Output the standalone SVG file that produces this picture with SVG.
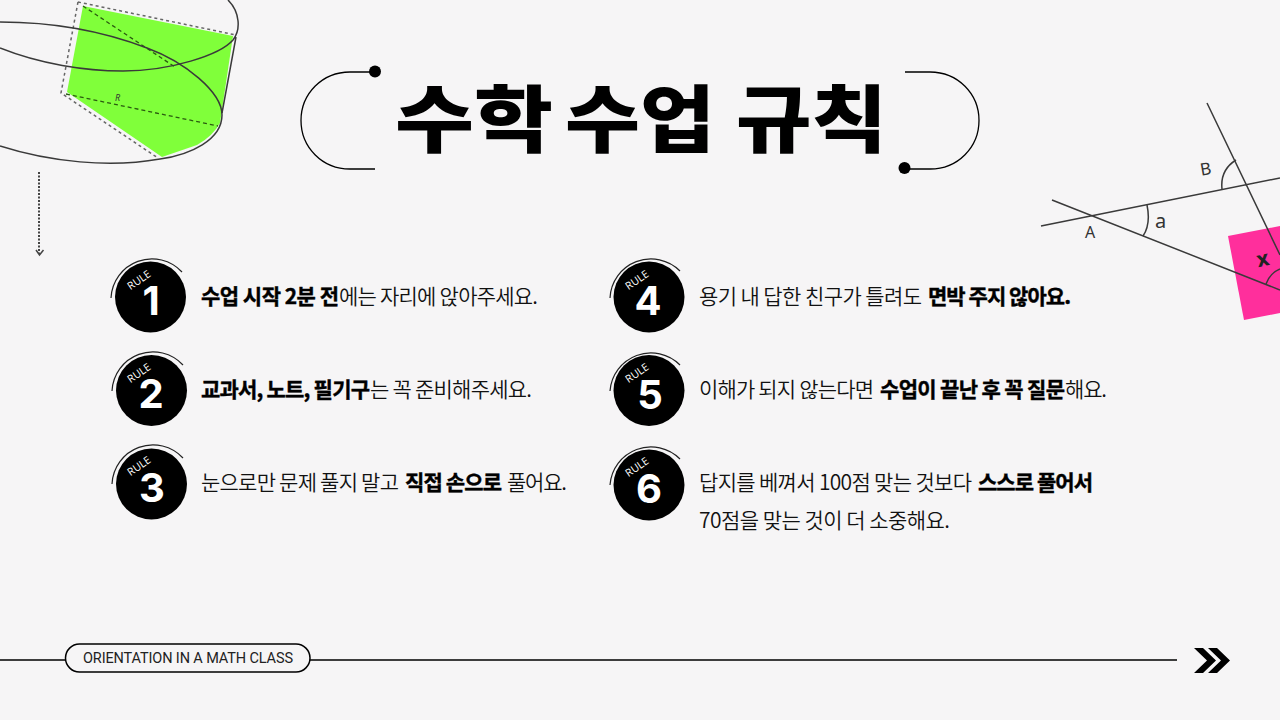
<svg xmlns="http://www.w3.org/2000/svg" width="1280" height="720" viewBox="0 0 1280 720">
<style>
.thin{fill:none;stroke:#000;stroke-width:1.3}
.geo{fill:none;stroke:#3a3a3a;stroke-width:1.5}
.dash{fill:none;stroke:#666;stroke-width:1.5;stroke-dasharray:3 3}
.dash2{fill:none;stroke:#2a5a10;stroke-width:1.3;stroke-dasharray:4 3}
.t{font-family:"Noto Sans CJK KR","Noto Sans",sans-serif;font-size:21px;fill:#111;font-weight:350}
.b{fill:#000;font-weight:700;stroke:#000;stroke-width:.4}
.title{font-family:"Noto Sans CJK KR",sans-serif;font-size:73px;font-weight:900;fill:#000}
.badge{fill:#000}
.ring{fill:none;stroke:#222;stroke-width:1.2}
.rule{font-family:"Open Sans","Noto Sans",sans-serif;font-size:10.500px;font-weight:500;fill:#fff;text-anchor:middle}
.num{font-family:"Inter","Noto Sans",sans-serif;font-size:40px;font-weight:700;fill:#fff;text-anchor:middle}
.lbl{font-family:"Noto Sans",sans-serif;fill:#333;font-size:15px}
</style>
<rect width="1280" height="720" fill="#f6f5f6"/>
<g id="deco-cylinder">
<path d="M83 6L233 36L220 123Q213 136 197 145L162 157L67 92Z" fill="#80ff3a"/>
<path class="dash" d="M78 2L236 35M78 2L61 93L158 158"/>
<path class="dash2" d="M83 6L175 67M66 94L218 126"/>
<path class="geo" d="M0 22C50 22 100 30 147 48C185 62 222 92 222 115C222 140 190 155 160 159C110 168 50 162 0 146"/>
<path class="geo" d="M0 48C40 64 85 71 123 71C170 71 220 55 233 40C241 30 240 12 228 0M236 37L222 113"/>
<text class="lbl" x="115" y="101" style="font-size:9px;font-style:italic">R</text>
<path d="M39 172V254" fill="none" stroke="#444" stroke-width="2" stroke-dasharray="2 1.500"/>
<path d="M36 250L39.500 255L43.500 250" fill="none" stroke="#444" stroke-width="1.500"/>
</g>
<g id="deco-angles">
<polygon points="1228,236 1280,226 1280,313 1244,320" fill="#ff2f9c"/>
<path class="geo" d="M1041 226L1280 178M1052 200L1280 290M1207 103L1280 255"/>
<path class="geo" d="M1147 205Q1151 224 1143 236M1236 160Q1220 170 1222 189M1266 284Q1270 273 1280 269"/>
<text class="lbl" x="1200" y="175" style="font-size:17px" transform="rotate(-10 1205 168)">B</text>
<text class="lbl" x="1155" y="228" style="font-size:20px">a</text>
<text class="lbl" x="1085" y="238" style="font-size:16px">A</text>
<text class="lbl" x="1257" y="266" transform="rotate(-12 1263 261)" style="font-size:21px;font-weight:700;fill:#222">x</text>
</g>
<g id="title">
<path class="thin" d="M375 169H350C322 169 301 147 301 120.500C301 94 322 72 350 72H372"/>
<circle cx="375" cy="71.500" r="6"/>
<path class="thin" d="M905 72H930C958 72 979 94 979 120.500C979 147 958 169 930 169H905"/>
<circle cx="904.500" cy="168" r="6"/>
<text class="title" y="146"><tspan x="395" textLength="158" lengthAdjust="spacingAndGlyphs">수학</tspan><tspan x="565" textLength="150" lengthAdjust="spacingAndGlyphs">수업</tspan><tspan x="736" textLength="151" lengthAdjust="spacingAndGlyphs">규칙</tspan></text>
</g>
<g id="rule1"><circle class="badge" cx="150.500" cy="297" r="35.500"/><path class="ring" d="M111 298A41 41 0 0 1 182 272"/><text class="rule" transform="translate(141 283) rotate(-35)">RULE</text><text class="num" x="151" y="315">1</text>
<text class="t" y="304"><tspan class="b" x="201" textLength="138">수업 시작 2분 전</tspan><tspan x="339" textLength="199">에는 자리에 앉아주세요.</tspan></text></g>
<g id="rule2"><circle class="badge" cx="151.500" cy="390.500" r="35.500"/><path class="ring" d="M112 391A41 41 0 0 1 183 365"/><text class="rule" transform="translate(141 376) rotate(-35)">RULE</text><text class="num" x="151" y="408">2</text>
<text class="t" y="397"><tspan class="b" x="201" textLength="169">교과서, 노트, 필기구</tspan><tspan x="370" textLength="162">는 꼭 준비해주세요.</tspan></text></g>
<g id="rule3"><circle class="badge" cx="151.500" cy="484" r="35.500"/><path class="ring" d="M112 484A41 41 0 0 1 183 458"/><text class="rule" transform="translate(141 469) rotate(-35)">RULE</text><text class="num" x="152" y="502">3</text>
<text class="t" y="490"><tspan x="201" textLength="198">눈으로만 문제 풀지 말고</tspan><tspan class="b" x="405" textLength="97">직접 손으로</tspan><tspan x="507" textLength="60">풀어요.</tspan></text></g>
<g id="rule4"><circle class="badge" cx="649" cy="297" r="35.500"/><path class="ring" d="M610 298A41 41 0 0 1 680 271"/><text class="rule" transform="translate(639 283) rotate(-35)">RULE</text><text class="num" x="648" y="315">4</text>
<text class="t" y="304"><tspan x="699" textLength="223">용기 내 답한 친구가 틀려도</tspan><tspan class="b" x="928" textLength="143">면박 주지 않아요.</tspan></text></g>
<g id="rule5"><circle class="badge" cx="649" cy="390.500" r="35.500"/><path class="ring" d="M610 391A41 41 0 0 1 680 365"/><text class="rule" transform="translate(639 376) rotate(-35)">RULE</text><text class="num" x="650" y="409">5</text>
<text class="t" y="397"><tspan x="699" textLength="175">이해가 되지 않는다면</tspan><tspan class="b" x="880" textLength="185">수업이 끝난 후 꼭 질문</tspan><tspan x="1065" textLength="42">해요.</tspan></text></g>
<g id="rule6"><circle class="badge" cx="649" cy="485" r="35.500"/><path class="ring" d="M610 485A41 41 0 0 1 680 459"/><text class="rule" transform="translate(639 470) rotate(-35)">RULE</text><text class="num" x="649" y="503">6</text>
<text class="t" y="490"><tspan x="699" textLength="273">답지를 베껴서 100점 맞는 것보다</tspan><tspan class="b" x="978" textLength="115">스스로 풀어서</tspan></text>
<text class="t" y="528" x="699" textLength="251">70점을 맞는 것이 더 소중해요.</text></g>
<g id="connectors"><path d="M0 660H65M310 660H1177" fill="none" stroke="#000" stroke-width="1.500"/></g>
<g id="footer"><rect x="65.500" y="644" width="244.500" height="28" rx="14" fill="#f6f5f6" stroke="#000" stroke-width="1.500"/>
<text x="83" y="663" textLength="210" style="font-family:'Roboto',sans-serif;font-size:14.500px;fill:#222">ORIENTATION IN A MATH CLASS</text></g>
<g id="chevrons"><polygon points="1194,648 1203,648 1216,660.500 1203,673 1194,673 1207,660.500"/><polygon points="1208,648 1217,648 1230,660.500 1217,673 1208,673 1221,660.500"/></g>
</svg>
